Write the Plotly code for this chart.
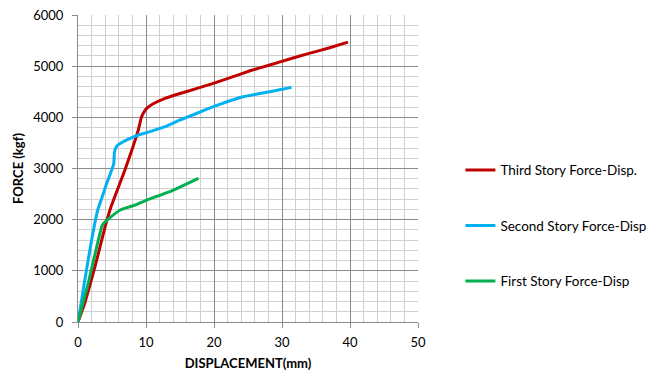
import plotly.graph_objects as go

third_x = [0, 1.0, 2.5, 4.0, 4.8, 6.9, 8.0, 8.87, 9.1, 9.3, 9.6, 10.1, 11.0, 12.8, 15.0, 17.5, 19.9, 22.5, 25.3, 28.2, 31.0, 34.0, 37.0, 39.7]
third_y = [0, 370, 1080, 1870, 2230, 2970, 3390, 3752, 3880, 3990, 4080, 4176, 4260, 4371, 4465, 4565, 4665, 4780, 4911, 5022, 5135, 5250, 5360, 5470]

second_x = [0, 0.3, 1.0, 2.0, 2.9, 3.4, 4.2, 4.9, 5.25, 5.3, 5.35, 5.5, 5.8, 6.2, 7.5, 8.9, 10.1, 12.8, 15.0, 17.5, 19.9, 22.0, 24.3, 26.5, 28.2, 31.4]
second_y = [0, 234, 820, 1600, 2189, 2384, 2700, 2950, 3080, 3180, 3300, 3390, 3450, 3490, 3580, 3654, 3700, 3817, 3948, 4080, 4208, 4310, 4403, 4460, 4500, 4586]

first_x = [0, 1.5, 3.48, 3.8, 4.2, 4.8, 6.2, 8.4, 10.1, 13.5, 17.7]
first_y = [0, 756, 1862, 1930, 1980, 2050, 2189, 2287, 2384, 2547, 2808]

names = ["Third Story Force-Disp.", "Second Story Force-Disp", "First Story Force-Disp"]
colors = ["#C00000", "#00B0F0", "#00B050"]

font_family = "Lato, Liberation Sans, sans-serif"

fig = go.Figure()
for i, (xs, ys) in enumerate([(third_x, third_y), (second_x, second_y), (first_x, first_y)]):
    fig.add_trace(go.Scatter(x=xs, y=ys, mode="lines", name=names[i],
                             line=dict(color=colors[i], width=3, shape="spline", smoothing=0.3),
                             legendgroup=str(i)))

fig.update_layout(
    width=662, height=372,
    margin=dict(l=78, r=244, t=15, b=50),
    paper_bgcolor="white", plot_bgcolor="white",
    font=dict(family=font_family, size=13, color="#000000"),
    showlegend=True,
    legend=dict(xref="container", yref="container", x=0.6955, y=0.3935,
                xanchor="left", yanchor="middle",
                tracegroupgap=35, itemwidth=30,
                font=dict(size=13.5, family=font_family, color="#000000")),
    xaxis=dict(range=[0, 50], dtick=10, tick0=0, automargin=False,
               showgrid=True, gridcolor="#8C8C8C", gridwidth=1,
               minor=dict(dtick=2, showgrid=True, gridcolor="#CFCFCF", gridwidth=1),
               showline=True, linecolor="#8C8C8C", linewidth=1,
               ticks="outside", ticklen=5, tickcolor="#8C8C8C",
               ticklabelstandoff=3,
               zeroline=False,
               title=dict(text="<b>DISPLACEMENT(mm)</b>", font=dict(size=13), standoff=10),
               tickfont=dict(size=13)),
    yaxis=dict(range=[0, 6000], dtick=1000, tick0=0, automargin=False,
               showgrid=True, gridcolor="#8C8C8C", gridwidth=1,
               minor=dict(dtick=200, showgrid=True, gridcolor="#CFCFCF", gridwidth=1),
               showline=True, linecolor="#8C8C8C", linewidth=1,
               ticks="outside", ticklen=5, tickcolor="#8C8C8C",
               ticklabelstandoff=6,
               zeroline=False,
               title=dict(text="<b>FORCE (kgf)</b>", font=dict(size=13), standoff=6),
               tickfont=dict(size=13)),
)

fig.write_html("out.html", config={"displayModeBar": False},
               post_script="document.body.style.margin='0';document.body.style.padding='0';")
